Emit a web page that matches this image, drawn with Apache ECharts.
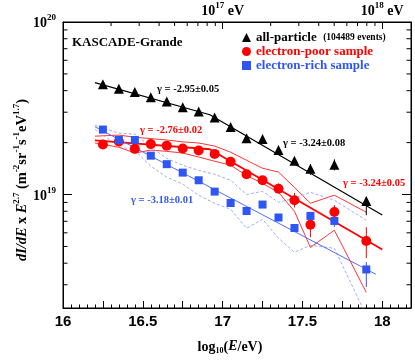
<!DOCTYPE html>
<html><head><meta charset="utf-8">
<script src="https://cdn.jsdelivr.net/npm/echarts@6/dist/echarts.min.js"></script>
<style>html,body{margin:0;padding:0;background:#fff}#c{width:415px;height:360px}</style>
</head><body><div id="c"></div>
<script>
// ---- data (log10(E/eV) and dI/dE x E^2.7 in m^-2 sr^-1 s^-1 eV^1.7) ----
const energies = [16.25,16.35,16.45,16.55,16.65,16.75,16.85,16.95,17.05,17.15,17.25,17.35,17.45,17.55,17.7,17.9];
const allParticle  = [4.36e19,4.10e19,3.93e19,3.66e19,3.46e19,3.21e19,3.03e19,2.80e19,2.46e19,2.12e19,2.10e19,1.81e19,1.57e19,1.41e19,1.49e19,9.18e18];
const electronPoor = [1.95e19,2.03e19,1.84e19,1.96e19,1.92e19,1.85e19,1.80e19,1.72e19,1.55e19,1.31e19,1.21e19,1.08e19,9.27e18,6.68e18,7.93e18,5.38e18];
const electronRich = [2.38e19,2.07e19,2.07e19,1.68e19,1.50e19,1.34e19,1.21e19,1.04e19,8.93e18,8.03e18,8.75e18,7.36e18,6.40e18,7.52e18,7.03e18,3.68e18];

// error bars: [log10E, low, high]
const allErr  = [[17.55,1.30e19,1.50e19],[17.7,1.38e19,1.60e19],[17.9,7.59e18,9.68e18]];
const poorErr = [[17.35,1.02e19,1.16e19],[17.45,8.41e18,1.02e19],[17.55,5.66e18,7.30e18],[17.7,7.30e18,8.69e18],[17.9,4.28e18,6.47e18]];
const richErr = [[17.55,7.10e18,7.93e18],[17.7,6.49e18,7.41e18],[17.9,2.91e18,4.06e18]];

// systematic bands
const bandE     = [16.2,16.35,16.45,16.55,16.65,16.75,16.85,16.95,17.05,17.15,17.25,17.35,17.45,17.55,17.7,17.9];
const poorUpper = [2.18e19,2.21e19,2.15e19,2.11e19,2.07e19,2.02e19,1.99e19,1.91e19,1.76e19,1.58e19,1.42e19,1.35e19,1.10e19,8.90e18,9.91e18,7.90e18];
const poorLower = [1.99e19,1.88e19,1.74e19,1.81e19,1.78e19,1.74e19,1.65e19,1.56e19,1.48e19,1.29e19,1.16e19,1.03e19,8.00e18,4.94e18,6.21e18,2.71e18];
const richUpper = [2.52e19,2.27e19,2.24e19,1.88e19,1.62e19,1.48e19,1.38e19,1.31e19,1.21e19,1.00e19,1.045e19,9.02e18,9.52e18,1.03e19,9.27e18,7.09e18];
const richLower = [2.39e19,1.90e19,1.80e19,1.46e19,1.26e19,1.15e19,9.91e18,8.90e18,8.22e18,6.37e18,7.19e18,5.58e18,4.63e18,5.08e18,4.88e18,1.99e18];

// fits (broken power laws)
const fitE     = [16.2,16.92,18.0];
const allFit   = [4.45e19,2.90e19,7.6e18];
const poorFit  = [2.06e19,1.83e19,4.8e18];
const richFitE = [16.2,17.96];
const richFit  = [2.47e19,3.45e18];

// axes
const xMin = 16, xMax = 18.18, yMin = 2.2e18, yMax = 1e20;
const yMinorTicks = [3e18,4e18,5e18,6e18,7e18,8e18,9e18,2e19,3e19,4e19,5e19,6e19,7e19,8e19,9e19];
const topMinorTicksEV = [2e16,3e16,4e16,5e16,6e16,7e16,8e16,9e16,2e17,3e17,4e17,5e17,6e17,7e17,8e17,9e17];

const SERIF = 'Liberation Serif', SANS = 'Liberation Sans';
const RED = '#ff0000', BLUE = '#2f55f5', BLUE_LIGHT = '#8c96ff';
const pairs = (xs, ys) => xs.map((x, i) => [x, ys[i]]);

function errSeries(data, color) {
  return {
    type: 'custom', silent: true, z: 3,
    data: data,
    renderItem: function (params, api) {
      const a = api.coord([api.value(0), api.value(1)]);
      const b = api.coord([api.value(0), api.value(2)]);
      return { type: 'line', shape: { x1: a[0], y1: a[1], x2: b[0], y2: b[1] },
               style: { stroke: color, lineWidth: 1 } };
    }
  };
}

const powRich = {
  b: { fontFamily: SERIF, fontWeight: 'bold', fontSize: 14, lineHeight: 17, verticalAlign: 'bottom', color: '#000' },
  s: { fontFamily: SERIF, fontWeight: 'bold', fontSize: 9, lineHeight: 9, verticalAlign: 'top', color: '#000' }
};

const chart = echarts.init(document.getElementById('c'), null, { renderer: 'canvas' });
chart.setOption({
  animation: false,
  backgroundColor: '#fff',
  grid: { left: 63, right: 4, top: 22, bottom: 52, show: true, borderColor: '#000', borderWidth: 1, backgroundColor: 'transparent' },
  legend: {
    orient: 'vertical', left: 242, top: 31, padding: 0, itemGap: 1,
    itemWidth: 9, itemHeight: 9,
    textStyle: { fontFamily: SERIF, fontWeight: 'bold', fontSize: 13, color: '#000',
      rich: { s: { fontFamily: SERIF, fontWeight: 'bold', fontSize: 9.5, color: '#000' } } },
    formatter: function (n) { return n === 'all-particle' ? 'all-particle  {s|(104489 events)}' : n; },
    selectedMode: false,
    data: [
      { name: 'all-particle', icon: 'triangle', itemStyle: { color: '#000' } },
      { name: 'electron-poor sample', icon: 'circle', itemStyle: { color: RED }, textStyle: { color: RED } },
      { name: 'electron-rich sample', icon: 'rect', itemStyle: { color: BLUE }, textStyle: { color: BLUE } }
    ]
  },
  xAxis: [
    { type: 'value', position: 'bottom', min: xMin, max: xMax, interval: 0.25,
      axisLine: { show: true, lineStyle: { color: '#000', width: 1 } },
      axisTick: { inside: true, length: 7, lineStyle: { color: '#000' } },
      splitLine: { show: false },
      axisLabel: { margin: 6, showMaxLabel: false, fontFamily: SANS, fontWeight: 'bold', fontSize: 15, color: '#000',
        formatter: function (v) { return Math.abs(v * 2 - Math.round(v * 2)) < 1e-6 ? String(v) : ''; } },
      name: 'log{sub|10}({i|E}/eV)', nameLocation: 'middle', nameGap: 31,
      nameTextStyle: { fontFamily: SERIF, fontWeight: 'bold', fontSize: 14, color: '#000', padding: [0, 14, 0, 0],
        rich: { sub: { fontFamily: SERIF, fontWeight: 'bold', fontSize: 8, lineHeight: 8, verticalAlign: 'bottom' },
                i: { fontFamily: SERIF, fontWeight: 'bold', fontStyle: 'italic', fontSize: 14, lineHeight: 16, verticalAlign: 'top' } } }
    },
    { type: 'value', position: 'top', min: xMin, max: xMax, interval: 1,
      axisLine: { show: true, lineStyle: { color: '#000', width: 1 } },
      axisTick: { inside: true, length: 7, lineStyle: { color: '#000' } },
      splitLine: { show: false },
      axisLabel: { margin: 4, showMinLabel: false, showMaxLabel: false, color: '#000',
        formatter: function (v) { return (v === 17 || v === 18) ? '{b|10}{s|' + v + '}{b| eV}' : ''; },
        rich: powRich }
    },
    { type: 'value', position: 'bottom', min: xMin, max: xMax, interval: 0.05,
      axisLine: { show: false }, splitLine: { show: false }, axisLabel: { show: false },
      axisTick: { inside: true, length: 3.5, lineStyle: { color: '#000' } } }
  ],
  yAxis: [
    { type: 'log', logBase: 10, min: yMin, max: yMax, position: 'left',
      axisLine: { show: true, lineStyle: { color: '#000', width: 1 } },
      axisTick: { inside: true, length: 9, lineStyle: { color: '#000' } },
      splitLine: { show: false }, minorTick: { show: false },
      axisLabel: { margin: 7, showMinLabel: false, color: '#000',
        formatter: function (v) { const e = Math.log10(v); return Math.abs(e - Math.round(e)) < 1e-6 ? '{b|10}{s|' + Math.round(e) + '}' : ''; },
        rich: powRich }
    },
    { type: 'log', logBase: 10, min: yMin, max: yMax, position: 'right',
      axisLine: { show: true, lineStyle: { color: '#000', width: 1 } },
      axisTick: { inside: true, length: 9, lineStyle: { color: '#000' } },
      splitLine: { show: false }, axisLabel: { show: false } }
  ],
  graphic: [
    { type: 'text', x: 72, y: 43, style: { text: 'KASCADE-Grande', fill: '#000', fontFamily: SERIF, fontWeight: 'bold', fontSize: 13, verticalAlign: 'middle' } },
    { type: 'text', x: 157, y: 89, style: { text: 'γ = -2.95±0.05', fill: '#000', fontFamily: SERIF, fontWeight: 'bold', fontSize: 10.5, verticalAlign: 'middle' } },
    { type: 'text', x: 283, y: 143, style: { text: 'γ = -3.24±0.08', fill: '#000', fontFamily: SERIF, fontWeight: 'bold', fontSize: 10.5, verticalAlign: 'middle' } },
    { type: 'text', x: 140, y: 130, style: { text: 'γ = -2.76±0.02', fill: RED, fontFamily: SERIF, fontWeight: 'bold', fontSize: 10.5, verticalAlign: 'middle' } },
    { type: 'text', x: 343, y: 183, style: { text: 'γ = -3.24±0.05', fill: RED, fontFamily: SERIF, fontWeight: 'bold', fontSize: 10.5, verticalAlign: 'middle' } },
    { type: 'text', x: 131, y: 200, style: { text: 'γ = -3.18±0.01', fill: BLUE, fontFamily: SERIF, fontWeight: 'bold', fontSize: 10.5, verticalAlign: 'middle' } },
    { type: 'text', x: 21, y: 180, rotation: Math.PI / 2,
      style: { text: '{i|dI/dE} {b|x} {i|E}{s|2.7} {b|(m}{s|-2}{b|sr}{s|-1}{b|s}{s|-1}{b|eV}{s|1.7}{b|)}',
        align: 'center', verticalAlign: 'middle', fill: '#000',
        rich: { i: { fontFamily: SERIF, fontWeight: 'bold', fontStyle: 'italic', fontSize: 14.5, lineHeight: 18, verticalAlign: 'bottom' },
                b: { fontFamily: SERIF, fontWeight: 'bold', fontSize: 14.5, lineHeight: 18, verticalAlign: 'bottom' },
                s: { fontFamily: SERIF, fontWeight: 'bold', fontSize: 9, lineHeight: 9, verticalAlign: 'top' } } } }
  ],
  series: [
    { type: 'line', data: pairs(bandE, poorUpper), showSymbol: false, silent: true, lineStyle: { color: RED, width: 0.8 }, z: 1 },
    { type: 'line', data: pairs(bandE, poorLower), showSymbol: false, silent: true, lineStyle: { color: RED, width: 0.8 }, z: 1 },
    { type: 'line', data: pairs(bandE, richUpper), showSymbol: false, silent: true, lineStyle: { color: BLUE_LIGHT, width: 0.8, type: [3, 2] }, z: 1 },
    { type: 'line', data: pairs(bandE, richLower), showSymbol: false, silent: true, lineStyle: { color: BLUE_LIGHT, width: 0.8, type: [3, 2] }, z: 1 },
    { type: 'line', data: pairs(fitE, allFit), showSymbol: false, silent: true, lineStyle: { color: '#000', width: 1.2 }, z: 2 },
    { type: 'line', data: pairs(fitE, poorFit), showSymbol: false, silent: true, lineStyle: { color: RED, width: 1.8 }, z: 2 },
    { type: 'line', data: pairs(richFitE, richFit), showSymbol: false, silent: true, lineStyle: { color: '#4f6dff', width: 1 }, z: 2 },
    errSeries(allErr, '#000'),
    errSeries(poorErr, RED),
    errSeries(richErr, BLUE),
    { name: 'all-particle', type: 'scatter', symbol: 'triangle', symbolSize: 10, data: pairs(energies, allParticle), itemStyle: { color: '#000', opacity: 1 }, z: 4 },
    { name: 'electron-poor sample', type: 'scatter', symbol: 'circle', symbolSize: 10, data: pairs(energies, electronPoor), itemStyle: { color: RED, opacity: 1 }, z: 4 },
    { name: 'electron-rich sample', type: 'scatter', symbol: 'rect', symbolSize: 8, data: pairs(energies, electronRich), itemStyle: { color: BLUE, opacity: 1 }, z: 4 },
    { type: 'custom', silent: true, z: 5, data: yMinorTicks.map(function (v) { return [xMin, v]; }),
      renderItem: function (params, api) {
        const l = api.coord([xMin, api.value(1)]);
        const r = api.coord([xMax, api.value(1)]);
        return { type: 'group', children: [
          { type: 'line', shape: { x1: l[0], y1: l[1], x2: l[0] + 4.5, y2: l[1] }, style: { stroke: '#000', lineWidth: 1 } },
          { type: 'line', shape: { x1: r[0] - 4.5, y1: r[1], x2: r[0], y2: r[1] }, style: { stroke: '#000', lineWidth: 1 } }
        ] };
      } },
    { type: 'custom', silent: true, z: 5, data: topMinorTicksEV.map(function (e) { return [Math.log10(e), yMax]; }),
      renderItem: function (params, api) {
        const p = api.coord([api.value(0), yMax]);
        return { type: 'line', shape: { x1: p[0], y1: p[1], x2: p[0], y2: p[1] + 4 }, style: { stroke: '#000', lineWidth: 1 } };
      } }
  ]
});
</script>
</body></html>
